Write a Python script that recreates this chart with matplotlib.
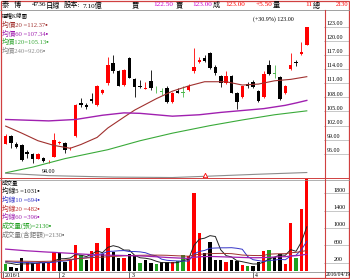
import numpy as np
import matplotlib.pyplot as plt
import matplotlib.transforms as mtransforms
from matplotlib.lines import Line2D
from matplotlib.patches import Rectangle

plt.rcParams['font.family'] = ['Liberation Serif', 'Noto Sans CJK TC', 'DejaVu Sans']

# daily bars 2016/01/18 .. 2016/04/19 (4736)
opens  = [98.2, 99.9, 98.2, 97.9, 96.5, 96.0, 95.0, 95.2, 94.4, 95.4,
          98.3, 98.4, 97.2, 99.7, 106.7, 106.4, 107.6, 106.4, 108.9, 111.0,
          115.2, 113.5, 110.6, 116.4, 111.9, 110.4, 109.8, 111.5, 109.9, 109.2,
          109.9, 106.9, 109.4, 109.0, 109.6, 113.5, 115.4, 116.4, 117.3, 114.4,
          112.5, 111.0, 112.5, 109.0, 108.0, 110.8, 111.3, 109.4, 108.0, 114.9,
          113.0, 112.4, 109.0, 113.9, 115.5, 117.1, 119.1]
highs  = [100.2, 100.0, 98.6, 98.0, 96.8, 96.3, 96.2, 95.4, 94.8, 100.5,
          98.8, 98.6, 97.5, 106.6, 107.8, 106.7, 108.9, 110.6, 109.7, 116.6,
          117.0, 113.8, 114.0, 116.6, 112.0, 111.7, 111.3, 113.8, 110.4, 109.9,
          110.3, 109.1, 109.9, 110.4, 110.8, 118.4, 116.6, 117.0, 117.5, 114.9,
          112.8, 113.5, 112.7, 109.1, 110.5, 111.3, 111.7, 109.6, 113.5, 116.0,
          114.9, 112.5, 110.6, 117.4, 115.9, 119.8, 123.0]
lows   = [98.1, 97.2, 97.2, 94.4, 95.1, 94.1, 94.9, 94.3, 94.0, 95.3,
          98.2, 96.1, 96.8, 99.5, 105.9, 105.6, 106.7, 106.2, 108.7, 110.6,
          113.1, 110.3, 110.4, 112.0, 108.0, 109.9, 109.7, 109.6, 109.0, 108.5,
          106.7, 106.8, 108.9, 108.0, 109.4, 113.1, 115.2, 115.4, 114.0, 112.8,
          110.1, 110.8, 108.9, 105.5, 107.9, 109.9, 110.0, 107.1, 107.9, 112.8,
          112.0, 107.4, 108.7, 113.8, 114.7, 117.0, 119.1]
closes = [99.9, 98.4, 97.5, 94.7, 95.9, 95.0, 96.0, 94.6, 94.6, 98.9,
          98.5, 96.8, 97.3, 106.4, 106.4, 106.0, 107.2, 110.4, 109.6, 114.9,
          113.6, 110.4, 113.8, 112.0, 110.1, 110.1, 110.0, 109.9, 109.9, 109.2,
          106.9, 109.0, 109.0, 109.0, 110.4, 114.5, 115.9, 115.6, 114.2, 113.1,
          111.0, 112.5, 109.0, 106.9, 110.4, 110.4, 110.1, 107.3, 113.0, 113.0,
          113.0, 107.6, 110.4, 114.9, 115.2, 117.5, 123.0]

vols = [162, 108, 70, 316, 209, 186, 186, 186, 209, 455,
        416, 209, 263, 609, 378, 263, 470, 648, 401, 994,
        455, 316, 301, 393, 378, 186, 263, 186, 162, 209,
        209, 209, 240, 378, 363, 1802, 879, 416, 671, 263,
        263, 209, 263, 240, 147, 132, 132, 209, 470, 494,
        340, 393, 162, 1125, 301, 1441, 2130]
vol_dir = 'gkkkrkrkrrkkrrgkrrkrkkrkkgkkgkkrggrrrkkkkrkkrgkkrgkkrrgrr'

# price moving averages
ma20_idx = [0, 3, 6, 9, 12, 14, 17, 19, 22, 24, 28, 31, 34, 37, 41, 44, 47, 50, 53, 56]
ma20_val = [101.9, 100.4, 98.8, 97.8, 97.2, 98.0, 99.5, 101.5, 103.8, 105.3,
            107.7, 109.3, 110.4, 111.3, 111.3, 110.6, 110.8, 111.5, 111.8, 112.37]
ma60_idx = [0, 8, 13, 18, 22, 25, 31, 36, 40, 44, 48, 52, 54, 56]
ma60_val = [103.3, 103.0, 103.3, 104.2, 104.7, 104.6, 104.0, 104.3, 104.8, 105.2,
            105.6, 106.3, 106.8, 107.34]
ma120_idx = [0, 5, 11, 19, 25, 31, 38, 44, 50, 56]
ma120_val = [92.0, 93.2, 95.0, 96.9, 98.8, 100.4, 102.0, 103.2, 104.3, 105.13]
ma240_idx = [0, 8, 20, 31, 38, 47, 56]
ma240_val = [91.9, 91.4, 91.1, 91.0, 91.3, 91.7, 92.06]

# volume moving averages
vma5 = [200, 185, 160, 175, 173, 178, 195, 217, 195, 244, 290, 295, 310, 390, 375,
        344, 397, 474, 432, 555, 594, 563, 493, 492, 369, 315, 304, 281, 235, 201,
        206, 196, 206, 249, 280, 598, 744, 768, 826, 806, 498, 364, 334, 248, 224,
        198, 171, 172, 218, 287, 329, 381, 372, 503, 464, 682, 1031]
vma10 = [230, 220, 205, 210, 205, 200, 195, 200, 205, 209, 234, 240, 260, 290, 307,
         314, 343, 389, 408, 462, 466, 477, 481, 459, 459, 451, 431, 384, 360, 282,
         257, 247, 241, 239, 238, 400, 461, 484, 535, 540, 545, 545, 548, 534, 512,
         345, 271, 250, 230, 253, 261, 279, 269, 357, 373, 504, 694]
vma20 = [240, 238, 235, 236, 234, 232, 230, 232, 234, 238, 250, 262, 275, 290, 300,
         310, 318, 326, 330, 337, 345, 352, 360, 366, 370, 372, 374, 375, 376, 375,
         372, 366, 360, 356, 351, 380, 395, 402, 410, 414, 416, 414, 410, 395, 378,
         372, 368, 366, 370, 399, 404, 408, 410, 430, 440, 460, 482]
vma60 = [515, 505, 495, 485, 475, 468, 460, 452, 445, 440, 432, 425, 418, 410, 402,
         395, 388, 382, 378, 375, 372, 370, 367, 364, 361, 358, 352, 345, 338, 330,
         322, 316, 310, 305, 302, 325, 338, 342, 345, 342, 338, 334, 330, 326, 322,
         318, 316, 316, 320, 326, 332, 338, 340, 355, 362, 378, 396]

price_ticks = [123, 120, 117, 114, 111, 108, 105, 102, 99, 96]
vol_ticks = [1800, 1400, 1000, 600, 200]
month_pos = [-0.5, 10, 23, 46]
month_lab = ['2016/1', '2', '3', '4']
event_idx = [37]

RED, BLK, GRN = '#FF0000', '#000000', '#4CB84C'
C20, C60, C120, C240 = '#A0302E', '#A020B0', '#3AAA3A', '#8C8C8C'

W, H = 350.0, 279.0
def box(x0, y0, x1, y1):
    return [x0 / W, 1 - y1 / H, (x1 - x0) / W, (y1 - y0) / H]
def fx(px):
    return px / W
def fy(py):
    return 1 - py / H

fig = plt.figure(figsize=(3.5, 2.79), dpi=100)
axp = fig.add_axes(box(3, 10, 324, 178))
axv = fig.add_axes(box(3, 179, 324, 271.4))

n = len(closes)
x = np.arange(n)
o = np.array(opens); c = np.array(closes)
cols = [RED if cc > oo else (BLK if cc < oo else GRN) for oo, cc in zip(o, c)]
bot = np.minimum(o, c)
hgt = np.maximum(np.abs(c - o), 0.15)
axp.vlines(x, lows, highs, colors=cols, lw=0.6)
axp.bar(x, hgt, bottom=bot, width=0.65, color=cols, lw=0)

axp.plot(ma20_idx, ma20_val, color=C20, lw=0.8)
axp.plot(ma60_idx, ma60_val, color=C60, lw=1.0)
axp.plot(ma120_idx, ma120_val, color=C120, lw=0.8)
axp.plot(ma240_idx, ma240_val, color=C240, lw=0.8)

bt = mtransforms.blended_transform_factory(axp.transData, axp.transAxes)
axp.plot(event_idx, [0.02] * len(event_idx), '^', ms=3.2, mfc='white', mec=RED,
         mew=0.6, transform=bt, clip_on=False)

axp.set_xlim(-0.5, 59.2)
axp.set_ylim(90.9, 126.5)
axp.set_xticks([]); axp.set_yticks([])
for s in axp.spines.values():
    s.set_visible(False)

# low / high labels
lo_i = int(np.argmin(lows)); hi_i = int(np.argmax(highs))
axp.text(lo_i, lows[lo_i] - 1.2, f'{lows[lo_i]:.2f}', ha='center', va='top', fontsize=4.3)
pct = (highs[hi_i] - lows[lo_i]) / lows[lo_i] * 100
axp.text(53.5, 124.5, f'(+{pct:.1f}%) {highs[hi_i]:.2f}', ha='right', va='center', fontsize=4.3)

tp = mtransforms.blended_transform_factory(axp.transAxes, axp.transData)
for v in price_ticks:
    axp.plot([1.0, 1.08], [v, v], color='#B0B0B0', lw=0.5, transform=tp, clip_on=False)
    axp.text(1.008, v + 0.15, f'{v:.2f}', transform=tp, ha='left', va='bottom', fontsize=4.3)

# volume panel
vc = [{'r': RED, 'k': BLK, 'g': '#1EA01E'}[d] for d in vol_dir]
axv.bar(x, vols, width=0.62, color=vc, lw=0)
axv.plot(x, vma5, color='#222222', lw=0.7)
axv.plot(x, vma10, color='#3535C8', lw=0.7)
axv.plot(x, vma20, color=C20, lw=0.7)
axv.plot(x, vma60, color=C60, lw=0.9)
axv.set_xlim(-0.5, 59.2)
axv.set_ylim(0, 2135)
axv.set_yticks([])
axv.set_xticks(month_pos)
axv.set_xticklabels([])
axv.tick_params(axis='x', length=5, width=0.6, color='#555555', direction='out')
for s in axv.spines.values():
    s.set_visible(False)
tv = mtransforms.blended_transform_factory(axv.transAxes, axv.transData)
for v in vol_ticks:
    axv.plot([1.0, 1.08], [v, v], color='#B0B0B0', lw=0.5, transform=tv, clip_on=False)
    axv.text(1.03, v + 15, f'{v}', transform=tv, ha='left', va='bottom', fontsize=4.3)
td = mtransforms.blended_transform_factory(axv.transData, axv.transAxes)
for p, lab in zip(month_pos, month_lab):
    axv.text(p + 0.35, -0.04, lab, transform=td, ha='left', va='center', fontsize=4.2)
fig.text(fx(326), fy(275), '2016/04/19', ha='left', va='center', fontsize=4.0)

# legends
fig.text(fx(2), fy(15.7), '還權K線圖', fontsize=4.0, va='center')
leg_p = [('均價20 =112.37', C20), ('均價60 =107.34', C60),
         ('均價120=105.13', C120), ('均價240=92.06', C240)]
for k, (t, col) in enumerate(leg_p):
    fig.text(fx(2), fy(24.6 + 8.6 * k), t + '▪', color=col, fontsize=4.8, va='center')
fig.text(fx(2), fy(182.3), '成交量', fontsize=4.0, va='center')
leg_v = [('均線5 =1031', '#111111'), ('均線10 =694', '#3535C8'), ('均線20 =482', '#C03030'),
         ('均線60 =396', C60), ('成交量(張)=2130', '#22A022'), ('成交量(含鉅額)=2130', '#777777')]
for k, (t, col) in enumerate(leg_v):
    fig.text(fx(2), fy(190.2 + 8.9 * k), t + '▪', color=col, fontsize=4.8, va='center')

# header
hy = fy(4.8)
hdr = [(1.5, '泰', 'left', BLK, 5.2), (13.5, '博', 'left', BLK, 5.2), (32, '4736', 'left', BLK, 5.2),
       (45.5, '日線', 'left', BLK, 5.2), (64, '股本:', 'left', BLK, 5.2), (83, '7.10億', 'left', BLK, 5.2),
       (132, '買', 'left', BLK, 5.2), (173.5, '122.50', 'right', '#CC00CC', 5.2),
       (176, '賣', 'left', BLK, 5.2), (212, '123.00', 'right', '#CC00CC', 5.2),
       (212.5, '成', 'left', BLK, 5.2), (245, '123.00', 'right', RED, 5.2),
       (272, '+5.50', 'right', RED, 5.2), (272.5, '量', 'left', BLK, 5.2),
       (312, '11', 'right', RED, 5.2), (312.5, '總', 'left', BLK, 5.2),
       (348.5, '2130', 'right', RED, 4.6)]
for px, t, ha, col, fs in hdr:
    fig.text(fx(px), hy, t, ha=ha, va='center', color=col, fontsize=fs)

# frame lines
fig.add_artist(Line2D([0, 1], [fy(9.5)] * 2, color='#909090', lw=0.6))
fig.add_artist(Line2D([0, 1], [fy(178.2)] * 2, color='#D04040', lw=0.7))
fig.add_artist(Line2D([0, 1], [fy(179.6)] * 2, color='#909090', lw=0.5))
fig.add_artist(Line2D([0, 1], [fy(271.6)] * 2, color='#909090', lw=0.6))
fig.add_artist(Line2D([fx(324.5)] * 2, [fy(9.5), 0], color='#D04040', lw=0.8))
fig.add_artist(Rectangle((0.002, 0.002), 0.996, 0.996, transform=fig.transFigure,
                         fill=False, ec='#D04040', lw=0.9))

fig.savefig('out.png', dpi=100)
